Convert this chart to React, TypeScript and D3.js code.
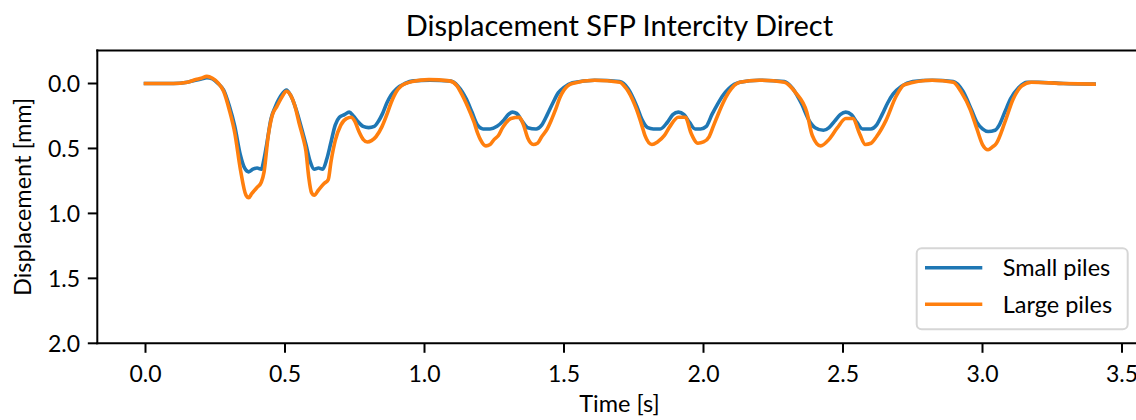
import React from "react";
import * as d3 from "d3";

const title = "Displacement SFP Intercity Direct";
const xLabel = "Time [s]";
const yLabel = "Displacement [mm]";
const xTicks = [0, 0.5, 1.0, 1.5, 2.0, 2.5, 3.0, 3.5];
const yTicks = [0, 0.5, 1.0, 1.5, 2.0];
const seriesNames = ["Small piles", "Large piles"];
const seriesColors = ["#1f77b4", "#ff7f0e"];

const smallTime = [
  0, 0.05, 0.1, 0.15, 0.2, 0.22, 0.24, 0.26, 0.28, 0.3, 0.32, 0.34, 0.355, 0.37, 0.385, 0.4, 0.415, 0.425, 0.435,
  0.45, 0.465, 0.49, 0.505, 0.52, 0.54, 0.56, 0.575, 0.59, 0.605, 0.62, 0.635, 0.65, 0.665, 0.68, 0.695, 0.713,
  0.73, 0.745, 0.76, 0.78, 0.8, 0.82, 0.835, 0.85, 0.865, 0.88, 0.9, 0.93, 0.96, 1.02, 1.09, 1.12, 1.15, 1.17,
  1.19, 1.21, 1.235, 1.26, 1.285, 1.3, 1.315, 1.33, 1.35, 1.37, 1.4, 1.42, 1.44, 1.46, 1.48, 1.5, 1.53, 1.61,
  1.7, 1.73, 1.76, 1.78, 1.8, 1.82, 1.845, 1.87, 1.89, 1.91, 1.93, 1.95, 1.97, 1.99, 2.01, 2.03, 2.05, 2.07,
  2.09, 2.13, 2.2, 2.29, 2.32, 2.35, 2.38, 2.4, 2.43, 2.45, 2.47, 2.49, 2.51, 2.53, 2.55, 2.57, 2.6, 2.62, 2.64,
  2.66, 2.68, 2.71, 2.75, 2.82, 2.895, 2.93, 2.96, 2.98, 3.0, 3.02, 3.045, 3.06, 3.08, 3.1, 3.13, 3.16, 3.2,
  3.29, 3.4,
];
const smallDisp = [
  0, 0, 0, -0.01, -0.035, -0.045, -0.035, 0.0, 0.05, 0.17, 0.33, 0.55, 0.65, 0.68, 0.66, 0.65, 0.66, 0.58, 0.46,
  0.27, 0.18, 0.08, 0.05, 0.09, 0.2, 0.35, 0.47, 0.6, 0.66, 0.65, 0.66, 0.58, 0.45, 0.32, 0.26, 0.24,
  0.22, 0.25, 0.29, 0.33, 0.34, 0.33, 0.29, 0.23, 0.15, 0.09, 0.04, 0.0, -0.02, -0.025, -0.02, 0.02, 0.12, 0.22,
  0.32, 0.35, 0.35, 0.33, 0.28, 0.24, 0.22, 0.23, 0.29, 0.34, 0.35, 0.32, 0.24, 0.15, 0.07, 0.03, -0.005, -0.025,
  -0.015, 0.04, 0.17, 0.28, 0.34, 0.35, 0.35, 0.3, 0.24, 0.22, 0.24, 0.3, 0.35, 0.35, 0.33, 0.24, 0.16, 0.09,
  0.04, -0.01, -0.025, -0.015, 0.04, 0.15, 0.29, 0.34, 0.36, 0.34, 0.29, 0.24, 0.22, 0.24, 0.3, 0.35, 0.35, 0.32, 0.24,
  0.15, 0.08, 0.02, -0.015, -0.025, -0.015, 0.06, 0.2, 0.3, 0.35, 0.37, 0.36, 0.32, 0.22, 0.12, 0.03, -0.01, -0.01,
  0.0, 0.005,
];

const largeTime = [
  0, 0.05, 0.1, 0.15, 0.18, 0.2, 0.22, 0.24, 0.26, 0.28, 0.3, 0.32, 0.34, 0.36, 0.37, 0.38, 0.4, 0.415, 0.425,
  0.44, 0.455, 0.47, 0.49, 0.505, 0.52, 0.535, 0.55, 0.565, 0.575, 0.585, 0.595, 0.605, 0.62, 0.64, 0.655, 0.665,
  0.68, 0.7, 0.72, 0.737, 0.75, 0.765, 0.78, 0.795, 0.81, 0.826, 0.848, 0.865, 0.88, 0.9, 0.916, 0.956, 1.016,
  1.088, 1.117, 1.133, 1.149, 1.165, 1.178, 1.19, 1.2, 1.22, 1.235, 1.25, 1.265, 1.28, 1.31, 1.34, 1.355, 1.37,
  1.39, 1.405, 1.42, 1.44, 1.455, 1.47, 1.485, 1.5, 1.53, 1.61, 1.7, 1.72, 1.73, 1.76, 1.78, 1.79, 1.815, 1.835,
  1.86, 1.88, 1.91, 1.935, 1.955, 1.98, 2.0, 2.02, 2.035, 2.05, 2.07, 2.09, 2.13, 2.2, 2.29, 2.31, 2.33, 2.37,
  2.39, 2.42, 2.45, 2.48, 2.51, 2.535, 2.56, 2.58, 2.6, 2.62, 2.655, 2.69, 2.72, 2.82, 2.895, 2.925, 2.956, 2.98,
  3.0, 3.02, 3.035, 3.05, 3.08, 3.11, 3.14, 3.175, 3.29, 3.4,
];
const largeDisp = [
  0, 0, 0, -0.01, -0.03, -0.04, -0.055, -0.04, -0.005, 0.06, 0.2, 0.38, 0.66, 0.86, 0.88, 0.85, 0.8, 0.76, 0.68,
  0.4, 0.24, 0.18, 0.1, 0.06, 0.09, 0.17, 0.3, 0.42, 0.52, 0.72, 0.84, 0.86, 0.82, 0.77, 0.74, 0.6,
  0.44, 0.32, 0.27, 0.26, 0.29, 0.37, 0.43, 0.45, 0.44, 0.41, 0.33, 0.24, 0.15, 0.06, 0.02, -0.015, -0.03,
  -0.02, 0.02, 0.08, 0.15, 0.23, 0.3, 0.38, 0.43, 0.48, 0.47, 0.43, 0.4, 0.34, 0.27, 0.26, 0.32, 0.42,
  0.47, 0.46, 0.41, 0.35, 0.28, 0.2, 0.11, 0.05, 0.0, -0.025, -0.01, 0.03, 0.06, 0.2, 0.33, 0.4, 0.47, 0.45,
  0.4, 0.33, 0.26, 0.26, 0.38, 0.46, 0.45, 0.41, 0.33, 0.25, 0.15, 0.07, -0.01, -0.025, -0.01, 0.02, 0.07, 0.22,
  0.4, 0.48, 0.43, 0.34, 0.27, 0.27, 0.39, 0.47, 0.46, 0.41, 0.28, 0.1, 0.01, -0.025, -0.01, 0.07, 0.2, 0.35,
  0.47, 0.51, 0.49, 0.46, 0.3, 0.12, 0.02, -0.01, 0.0, 0.005,
];

const W = 1136;
const H = 420;
const FONT = "Lato, 'Open Sans', sans-serif";

export default function App() {
  const x = d3.scaleLinear().domain([0, 3.5]).range([145.5, 1122]);
  const y = d3.scaleLinear().domain([0, 2]).range([83.5, 343.3]);
  const left = 97.3;
  const top = y(-0.254);
  const bottom = y(2);
  const right = x(3.57);

  const line = d3
    .line<[number, number]>()
    .x((d) => x(d[0]))
    .y((d) => y(d[1]))
    .curve(d3.curveMonotoneX);

  const smallData = smallTime.map((t, i) => [t, smallDisp[i]] as [number, number]);
  const largeData = largeTime.map((t, i) => [t, largeDisp[i]] as [number, number]);

  const legX = 916.7;
  const legY = 248.3;
  const legW = 211;
  const legH = 81;
  const rowY = [267.7, 304.3];

  return (
    <svg
      width={W}
      height={H}
      style={{ position: "absolute", left: 0, top: 0, background: "#fff" }}
      fontFamily={FONT}
    >
      <rect x={0} y={0} width={W} height={H} fill="#fff" />
      <defs>
        <clipPath id="plotclip">
          <rect x={left} y={top} width={right - left} height={bottom - top} />
        </clipPath>
      </defs>
      <g clipPath="url(#plotclip)">
        <path d={line(smallData) || ""} fill="none" stroke={seriesColors[0]} strokeWidth={3.6} strokeLinejoin="round" strokeLinecap="square" />
        <path d={line(largeData) || ""} fill="none" stroke={seriesColors[1]} strokeWidth={3.6} strokeLinejoin="round" strokeLinecap="square" />
      </g>
      <g stroke="#000" strokeWidth={2} fill="none" strokeLinecap="square">
        <line x1={left} y1={top} x2={left} y2={bottom} />
        <line x1={left} y1={bottom} x2={right} y2={bottom} />
        <line x1={left} y1={top} x2={right} y2={top} />
        <line x1={right} y1={top} x2={right} y2={bottom} />
      </g>
      {yTicks.map((v) => (
        <g key={"y" + v}>
          <line x1={left - 9.5} x2={left} y1={y(v)} y2={y(v)} stroke="#000" strokeWidth={2} />
          <text x={80} y={y(v)} dy="0.36em" textAnchor="end" fontSize={23} fill="#000">
            {v.toFixed(1)}
          </text>
        </g>
      ))}
      {xTicks.map((v) => (
        <g key={"x" + v}>
          <line x1={x(v)} x2={x(v)} y1={bottom} y2={bottom + 9.5} stroke="#000" strokeWidth={2} />
          <text x={x(v)} y={381.5} textAnchor="middle" fontSize={23} fill="#000">
            {v.toFixed(1)}
          </text>
        </g>
      ))}
      <text x={(left + right) / 2} y={412} textAnchor="middle" fontSize={23.5} fill="#000">
        {xLabel}
      </text>
      <text
        transform={`translate(31,${(top + bottom) / 2}) rotate(-90)`}
        textAnchor="middle"
        fontSize={23.5}
        fill="#000"
      >
        {yLabel}
      </text>
      <text x={(left + right) / 2} y={36} textAnchor="middle" fontSize={29} fill="#000">
        {title}
      </text>
      <rect x={legX} y={legY} width={legW} height={legH} rx={5} ry={5} fill="#fff" fillOpacity={0.8} stroke="#d6d6d6" strokeWidth={2} />
      {seriesNames.map((name, i) => (
        <g key={name}>
          <line x1={925} x2={982.3} y1={rowY[i]} y2={rowY[i]} stroke={seriesColors[i]} strokeWidth={3.6} />
          <text x={1002.7} y={rowY[i]} dy="0.36em" fontSize={23.5} fill="#000">
            {name}
          </text>
        </g>
      ))}
    </svg>
  );
}
